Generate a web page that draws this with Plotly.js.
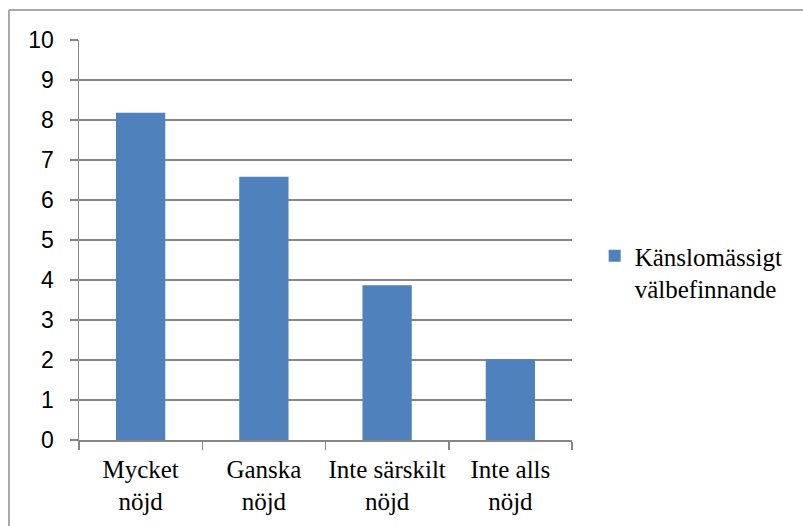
<!DOCTYPE html>
<html>
<head>
<meta charset="utf-8">
<script src="https://cdn.plot.ly/plotly-3.0.1.min.js"></script>
<style>html,body{margin:0;padding:0;background:#fff;}#chart{width:803px;height:526px;}</style>
</head>
<body>
<div id="chart"></div>
<script>
const categories = ["Mycket<br>nöjd", "Ganska<br>nöjd", "Inte särskilt<br>nöjd", "Inte alls<br>nöjd"];
const values = [8.18, 6.58, 3.87, 2.02];
const seriesName = "Känslomässigt<br>välbefinnande";
const yTicks = [0,1,2,3,4,5,6,7,8,9,10];

const serifFont = "Liberation Serif";

const trace = {
  type: 'bar',
  x: categories,
  y: values,
  name: seriesName,
  marker: {color: '#4F81BD'},
  showlegend: true,
  hoverinfo: 'none'
};

const layout = {
  width: 803, height: 526,
  margin: {l: 79, r: 231, t: 40, b: 86, pad: 0},
  paper_bgcolor: '#fff', plot_bgcolor: '#fff',
  font: {family: serifFont, size: 25, color: '#000'},
  bargap: 0.6,
  showlegend: true,
  legend: {
    x: 1.046, y: 0.42, xanchor: 'left', yanchor: 'middle',
    font: {family: serifFont, size: 25, color: '#000'},
    itemwidth: 30, tracegroupgap: 0, valign: 'top'
  },
  xaxis: {
    type: 'category',
    showline: true, linecolor: '#868686', linewidth: 1.5,
    ticks: 'outside', ticklen: 8, tickcolor: '#868686', tickwidth: 1.5,
    tickson: 'boundaries',
    tickangle: 0,
    showgrid: false,
    tickfont: {family: serifFont, size: 25, color: '#000'},
    ticklabelstandoff: 6
  },
  yaxis: {
    range: [0, 10],
    tickvals: yTicks,
    ticktext: yTicks.map(String),
    showline: true, linecolor: '#868686', linewidth: 1.5,
    ticks: 'outside', ticklen: 8, tickcolor: '#868686', tickwidth: 1.5,
    showgrid: true, gridcolor: '#868686', gridwidth: 1.5,
    zeroline: false,
    tickfont: {family: "Liberation Sans", size: 23, color: '#000'},
    ticklabelstandoff: 11
  },
  shapes: [
    {type: 'line', xref: 'paper', yref: 'paper', x0: (9-79)/493, x1: 2, y0: (440-10)/400, y1: (440-10)/400, line: {color: '#8c8c8c', width: 1.5}},
    {type: 'line', xref: 'paper', yref: 'paper', x0: (9-79)/493, x1: (9-79)/493, y0: (440-10)/400, y1: -1, line: {color: '#8c8c8c', width: 1.5}}
  ]
};

Plotly.newPlot('chart', [trace], layout, {staticPlot: true, displayModeBar: false});
</script>
</body>
</html>
